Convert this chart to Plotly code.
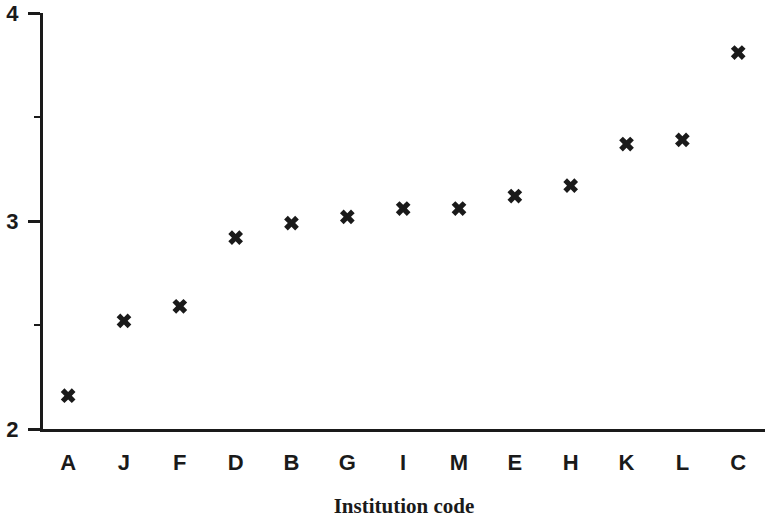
import plotly.graph_objects as go

institutions = ["A", "J", "F", "D", "B", "G", "I", "M", "E", "H", "K", "L", "C"]
scores = [2.16, 2.52, 2.59, 2.92, 2.99, 3.02, 3.06, 3.06, 3.12, 3.17, 3.37, 3.39, 3.81]

sans = "Liberation Sans, Arial, sans-serif"
serif = "Liberation Serif, Times New Roman, serif"

fig = go.Figure()
fig.add_trace(go.Scatter(
    x=institutions, y=scores, mode="markers",
    marker=dict(symbol="x", size=13, color="#1a1a1a", line=dict(width=0)),
    showlegend=False, hoverinfo="skip",
))

fig.update_layout(
    width=765, height=519,
    margin=dict(l=43, r=0, t=13, b=90),
    paper_bgcolor="white", plot_bgcolor="white",
    font=dict(family=sans, color="#1a1a1a"),
    xaxis=dict(
        type="category", range=[-0.45, 12.48],
        showline=True, linecolor="#1a1a1a", linewidth=3,
        showgrid=False, zeroline=False,
        ticks="outside", ticklen=12, tickcolor="rgba(0,0,0,0)",
        tickfont=dict(size=22, family=sans, weight="bold"),
        title=dict(text="Institution code", standoff=24,
                   font=dict(size=21, family=serif, weight="bold")),
    ),
    yaxis=dict(
        range=[2, 4], tickvals=[2, 3, 4], ticktext=["2", "3", "4"],
        showline=True, linecolor="#1a1a1a", linewidth=3,
        showgrid=False, zeroline=False,
        ticks="outside", ticklen=12, tickwidth=2.5, tickcolor="#1a1a1a",
        ticklabelstandoff=5,
        minor=dict(tickvals=[2.5, 3.5], ticks="outside", ticklen=6, tickwidth=2, tickcolor="#1a1a1a"),
        tickfont=dict(size=22, family=sans, weight="bold"),
    ),
)

fig.write_html("out.html", config={"displayModeBar": False},
               post_script="document.body.style.margin='0';")
